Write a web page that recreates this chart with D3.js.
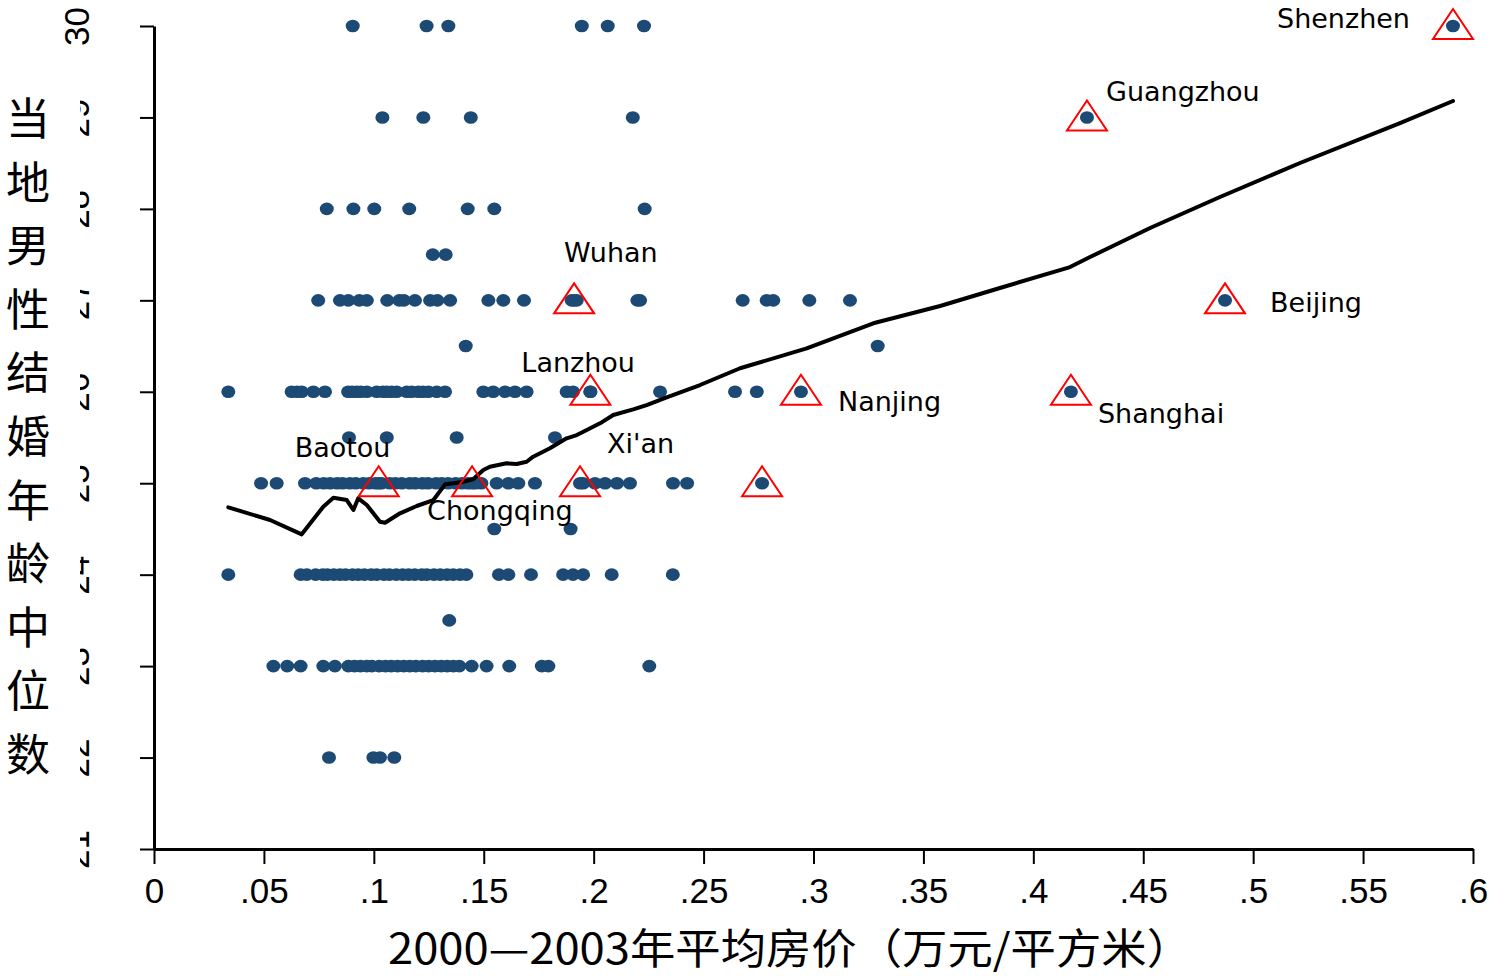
<!DOCTYPE html>
<html>
<head>
<meta charset="utf-8">
<script src="https://cdn.jsdelivr.net/npm/d3@7/dist/d3.min.js"></script>
<style>
  html, body { margin: 0; padding: 0; background: #fff; }
  svg { display: block; }
</style>
</head>
<body>
<svg id="chart" width="1493" height="976"></svg>
<script>
// ---------------- DATA ----------------
// y levels (median male marriage age) and the house prices of the cities at each level
const ageLevels = [30, 29, 28, 27.5, 27, 26.5, 26, 25.5, 25, 24.5, 24, 23.5, 23, 22];
const pricesAt30 = [0.0904, 0.1240, 0.1339, 0.1946, 0.2064, 0.2229];
const pricesAt29 = [0.1039, 0.1225, 0.1441, 0.2178];
const pricesAt28 = [0.0786, 0.0907, 0.1002, 0.1161, 0.1427, 0.1548, 0.2232];
const pricesAt275 = [0.1268, 0.1327];
const pricesAt27 = [0.0747, 0.0846, 0.0884, 0.0934, 0.0968, 0.1061, 0.1116, 0.1137, 0.1187, 0.1256,
  0.1289, 0.1347, 0.1521, 0.1589, 0.1683, 0.1900, 0.1923, 0.2199, 0.2211, 0.2678, 0.2787, 0.2817,
  0.2981, 0.3166];
const pricesAt265 = [0.1418, 0.3292];
const pricesAt26 = [0.0338, 0.0626, 0.0651, 0.0672, 0.0725, 0.0778, 0.0883, 0.0901, 0.0922, 0.0941,
  0.0968, 0.1013, 0.1042, 0.1059, 0.1081, 0.1104, 0.1150, 0.1172, 0.1202, 0.1223, 0.1248, 0.1286,
  0.1324, 0.1498, 0.1543, 0.1597, 0.1642, 0.1695, 0.1877, 0.1906, 0.1985, 0.2302, 0.2643, 0.2742];
const pricesAt255 = [0.0887, 0.1059, 0.1377, 0.1824];
const pricesAt25 = [0.0487, 0.0558, 0.0687, 0.0738, 0.0772, 0.0801, 0.0833, 0.0858, 0.0891, 0.0918,
  0.0952, 0.0979, 0.1008, 0.1035, 0.1072, 0.1098, 0.1127, 0.1163, 0.1188, 0.1221, 0.1247, 0.1283,
  0.1309, 0.1338, 0.1372, 0.1401, 0.1428, 0.1462, 0.1489, 0.1559, 0.1612, 0.1657, 0.1733, 0.1952,
  0.2006, 0.2052, 0.2106, 0.2165, 0.2361, 0.2425];
const pricesAt245 = [0.1548, 0.1895];
const pricesAt24 = [0.0338, 0.0667, 0.0695, 0.0735, 0.0768, 0.0789, 0.0818, 0.0846, 0.0871, 0.0903,
  0.0929, 0.0957, 0.0988, 0.1013, 0.1046, 0.1071, 0.1102, 0.1131, 0.1158, 0.1186, 0.1218, 0.1241,
  0.1273, 0.1302, 0.1333, 0.1361, 0.1392, 0.1421, 0.1569, 0.1612, 0.1715, 0.1861, 0.1906, 0.1952,
  0.2082, 0.2360];
const pricesAt235 = [0.1343];
const pricesAt23 = [0.0543, 0.0606, 0.0667, 0.0770, 0.0823, 0.0884, 0.0912, 0.0939, 0.0968, 0.0991,
  0.1024, 0.1053, 0.1079, 0.1108, 0.1136, 0.1163, 0.1191, 0.1222, 0.1249, 0.1278, 0.1306, 0.1334,
  0.1362, 0.1389, 0.1445, 0.1513, 0.1616, 0.1764, 0.1794, 0.2253];
const pricesAt22 = [0.0796, 0.0998, 0.1028, 0.1093];
const pricesByLevel = [pricesAt30, pricesAt29, pricesAt28, pricesAt275, pricesAt27, pricesAt265,
  pricesAt26, pricesAt255, pricesAt25, pricesAt245, pricesAt24, pricesAt235, pricesAt23, pricesAt22];

// highlighted cities (triangle markers)
const cityNames  = ["Shenzhen", "Guangzhou", "Beijing", "Shanghai", "Nanjing", "Wuhan", "Lanzhou", "Xi'an", "Chongqing", "Baotou", ""];
const cityPrices = [0.5909, 0.4244, 0.4872, 0.4171, 0.2943, 0.1911, 0.1985, 0.1938, 0.1447, 0.1022, 0.2766];
const cityAges   = [30, 29, 27, 26, 26, 27, 26, 25, 25, 25, 25];

// lowess fit line [price, age]
const fitLine = [
  [0.0338, 24.736], [0.0528, 24.598], [0.0672, 24.441], [0.0770, 24.743], [0.0816, 24.841],
  [0.0877, 24.816], [0.0907, 24.707], [0.0929, 24.835], [0.0968, 24.762], [0.1028, 24.579],
  [0.1051, 24.568], [0.1119, 24.671], [0.1195, 24.751], [0.1271, 24.816], [0.1324, 24.988],
  [0.1362, 24.999], [0.1407, 25.016], [0.1452, 25.043], [0.1498, 25.144], [0.1528, 25.180],
  [0.1604, 25.218], [0.1650, 25.210], [0.1695, 25.235], [0.1725, 25.290], [0.1801, 25.382],
  [0.1877, 25.491], [0.1923, 25.527], [0.1953, 25.563], [0.2029, 25.655], [0.2089, 25.746],
  [0.2180, 25.808], [0.2241, 25.855], [0.2332, 25.939], [0.2484, 26.074], [0.2666, 26.257],
  [0.2969, 26.475], [0.3272, 26.749], [0.3576, 26.938], [0.3848, 27.135], [0.4167, 27.364],
  [0.4258, 27.474], [0.4531, 27.791], [0.4849, 28.130], [0.5213, 28.502], [0.5668, 28.939],
  [0.5909, 29.180]
];

const xTicks = [0, 0.05, 0.1, 0.15, 0.2, 0.25, 0.3, 0.35, 0.4, 0.45, 0.5, 0.55, 0.6];
const xTickLabels = ["0", ".05", ".1", ".15", ".2", ".25", ".3", ".35", ".4", ".45", ".5", ".55", ".6"];
const yTicks = [21, 22, 23, 24, 25, 26, 27, 28, 29, 30];
const yTickLabels = ["21", "22", "23", "24", "25", "26", "27", "28", "29", "30"];
const yTitleChars = ["当", "地", "男", "性", "结", "婚", "年", "龄", "中", "位", "数"];
const xTitle = "2000—2003年平均房价（万元/平方米）";

// label placement (style): offsets in px from the marker, text anchor
const labelStyle = {
  "Shenzhen":  { dx: -43, dy: 2,   anchor: "end" },
  "Guangzhou": { dx: 19,  dy: -16, anchor: "start" },
  "Beijing":   { dx: 45,  dy: 12,  anchor: "start" },
  "Shanghai":  { dx: 27,  dy: 31,  anchor: "start" },
  "Nanjing":   { dx: 37,  dy: 19,  anchor: "start" },
  "Wuhan":     { dx: -10, dy: -38, anchor: "start" },
  "Lanzhou":   { dx: -69, dy: -20, anchor: "start" },
  "Xi'an":     { dx: 27,  dy: -30, anchor: "start" },
  "Chongqing": { dx: -45, dy: 37,  anchor: "start" },
  "Baotou":    { dx: -84, dy: -26, anchor: "start" }
};

// ---------------- CHART ----------------
const svg = d3.select("#chart");
svg.append("rect").attr("width", 1493).attr("height", 976).attr("fill", "#fff");

const x = d3.scaleLinear().domain([0, 0.6]).range([154, 1473]);
const y = d3.scaleLinear().domain([21, 30]).range([849, 26]);

const dotColor = "#1c4a74";

// points
const points = [];
ageLevels.forEach((a, i) => pricesByLevel[i].forEach(p => points.push({ p, a })));
cityPrices.forEach((p, i) => points.push({ p, a: cityAges[i] }));

svg.append("g").selectAll("ellipse").data(points).join("ellipse")
  .attr("cx", d => x(d.p)).attr("cy", d => y(d.a))
  .attr("rx", 7).attr("ry", 6.3)
  .attr("fill", dotColor);

// fit line
svg.append("path").datum(fitLine)
  .attr("d", d3.line().x(d => x(d[0])).y(d => y(d[1])))
  .attr("fill", "none").attr("stroke", "#000").attr("stroke-width", 4)
  .attr("stroke-linejoin", "round").attr("stroke-linecap", "round");

// triangles
const tri = "M0,-17L20,13L-20,13Z";
svg.append("g").selectAll("path").data(cityPrices).join("path")
  .attr("d", tri)
  .attr("transform", (d, i) => `translate(${x(d)},${y(cityAges[i])})`)
  .attr("fill", "none").attr("stroke", "#ff0000").attr("stroke-width", 2);

// city labels
svg.append("g").selectAll("text").data(cityNames.filter(n => n)).join("text")
  .attr("x", n => x(cityPrices[cityNames.indexOf(n)]) + labelStyle[n].dx)
  .attr("y", n => y(cityAges[cityNames.indexOf(n)]) + labelStyle[n].dy)
  .attr("text-anchor", n => labelStyle[n].anchor)
  .attr("font-family", "'DejaVu Sans', Verdana, sans-serif")
  .attr("font-size", 27)
  .attr("fill", "#000")
  .text(n => n);

// x axis
const xAxis = d3.axisBottom(x).tickValues(xTicks)
  .tickFormat((d, i) => xTickLabels[i]).tickSize(15).tickSizeOuter(0);
const gx = svg.append("g").attr("transform", "translate(0,849)").call(xAxis);
gx.select(".domain").attr("stroke", "#000").attr("stroke-width", 3);
gx.selectAll(".tick line").attr("stroke", "#000").attr("stroke-width", 2);
gx.selectAll(".tick text")
  .attr("font-family", "'Liberation Sans', Arial, sans-serif")
  .attr("font-size", 35).attr("fill", "#000")
  .attr("dy", null).attr("y", 54);

// y axis
const yAxis = d3.axisLeft(y).tickValues(yTicks).tickFormat(() => "").tickSize(14).tickSizeOuter(0);
const gy = svg.append("g").attr("transform", "translate(154,0)").call(yAxis);
gy.select(".domain").attr("stroke", "#000").attr("stroke-width", 3);
gy.selectAll(".tick line").attr("stroke", "#000").attr("stroke-width", 2);
gy.selectAll(".tick text").remove();
gy.selectAll(".tick").append("text")
  .attr("transform", "translate(-65,0) rotate(-90)")
  .attr("text-anchor", "middle")
  .attr("font-family", "'Liberation Sans', Arial, sans-serif")
  .attr("font-size", 35).attr("fill", "#000")
  .text((d, i) => yTickLabels[i]);

// white panel (covers part of the y tick labels) and y title
svg.append("rect").attr("x", 0).attr("y", 73).attr("width", 80).attr("height", 803).attr("fill", "#fff");

svg.append("g").selectAll("text").data(yTitleChars).join("text")
  .attr("x", 28)
  .attr("y", (d, i) => 116 + i * 63.6)
  .attr("dominant-baseline", "central")
  .attr("text-anchor", "middle")
  .attr("font-family", "'Noto Sans CJK SC', sans-serif")
  .attr("font-size", 44).attr("fill", "#000")
  .text(d => d);

// x title
svg.append("text")
  .attr("x", 388).attr("y", 945)
  .attr("dominant-baseline", "central")
  .attr("font-family", "'Noto Sans CJK SC', sans-serif")
  .attr("font-size", 42).attr("fill", "#000")
  .attr("textLength", 804).attr("lengthAdjust", "spacingAndGlyphs")
  .text(xTitle);
</script>
</body>
</html>
